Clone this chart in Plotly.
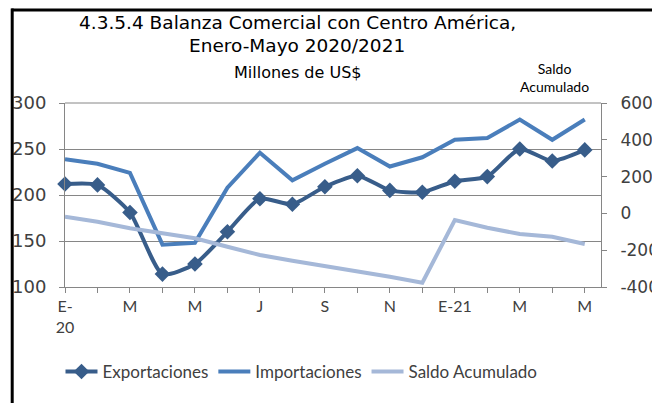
import plotly.graph_objects as go

months = list(range(17))
tick_pos = list(range(17))
tick_text = ["E-<br>20", "", "M", "", "M", "", "J", "", "S", "", "N", "", "E-21", "", "M", "", "M"]

exportaciones = [212, 211, 181, 114, 125, 160, 196, 190, 209, 221, 205, 203, 215, 220, 250, 237, 249]
importaciones = [239, 234, 224, 146, 148, 208, 246, 216, 234, 251, 231, 241, 260, 262, 282, 260, 282]
saldo_acumulado = [-18, -45, -81, -108, -135, -181, -226, -257, -285, -317, -344, -377, -36, -78, -112, -127, -166]

y2_ticks = [-400, -200, 0, 200, 400, 600]
y2_labels = ["-400", "-200", "0", "200", "400", "600"]

FONT = "Lato"
WIDE = "DejaVu Sans"
C_EXP = "#385D8A"
C_IMP = "#4A7EBB"
C_SAL = "#A5B8D8"
TXT = "#404040"

fig = go.Figure()
fig.add_trace(go.Scatter(x=months, y=exportaciones, name="Exportaciones", mode="lines+markers",
                         line=dict(color=C_EXP, width=4, shape="spline", smoothing=0.6),
                         marker=dict(symbol="diamond", size=12, color=C_EXP),
                         cliponaxis=False))
fig.add_trace(go.Scatter(x=months, y=importaciones, name="Importaciones", mode="lines",
                         line=dict(color=C_IMP, width=4), cliponaxis=False))
fig.add_trace(go.Scatter(x=months, y=saldo_acumulado, name="Saldo Acumulado", mode="lines",
                         line=dict(color=C_SAL, width=4), yaxis="y2", cliponaxis=False))

fig.update_layout(
    width=652, height=403,
    margin=dict(l=65, r=51, t=103, b=116, autoexpand=False),
    paper_bgcolor="white", plot_bgcolor="white",
    font=dict(family=FONT, size=17, color=TXT),
    showlegend=True,
    legend=dict(orientation="h", x=-0.0084, y=-0.462, xanchor="left", yanchor="middle",
                font=dict(family=FONT, size=17, color=TXT), itemwidth=32,
                tracegroupgap=0, bgcolor="rgba(0,0,0,0)"),
    xaxis=dict(range=[0, 16.5], tickmode="array", tickvals=tick_pos, ticktext=tick_text,
               showgrid=False, zeroline=False, showline=True, linecolor="#868686", linewidth=1,
               ticks="outside", ticklen=5, tickcolor="#868686", tickangle=0, automargin=False,
               tickfont=dict(family=FONT, size=16, color=TXT)),
    yaxis=dict(range=[100, 300], dtick=50, showgrid=True, gridcolor="#868686", gridwidth=1,
               zeroline=False, showline=True, linecolor="#868686", linewidth=1,
               ticks="outside", ticklen=5, tickcolor="#868686", automargin=False,
               ticklabelstandoff=9,
               tickfont=dict(family=WIDE, size=18, color=TXT)),
    yaxis2=dict(range=[-400, 600], tickmode="array", tickvals=y2_ticks, ticktext=y2_labels,
                overlaying="y", side="right", showgrid=False,
                zeroline=False, showline=True, linecolor="#868686", linewidth=1,
                ticks="outside", ticklen=5, tickcolor="#868686", automargin=False,
                ticklabelstandoff=10,
                tickfont=dict(family=WIDE, size=17, color=TXT)),
)

# top border line of plot area
fig.add_shape(type="line", xref="paper", yref="paper", x0=0, x1=1, y0=1, y1=1,
              line=dict(color="#868686", width=1))

# outer black frame (top and left edges)
fig.add_shape(type="line", xref="paper", yref="paper", x0=-0.1, x1=1.2, y0=1.505, y1=1.505,
              line=dict(color="black", width=3), layer="above")
fig.add_shape(type="line", xref="paper", yref="paper", x0=-0.0985, x1=-0.0985, y0=1.513, y1=-1.0,
              line=dict(color="black", width=3), layer="above")

fig.add_annotation(xref="paper", yref="paper", x=0.433, y=1.435, xanchor="center", yanchor="middle",
                   text="4.3.5.4 Balanza Comercial con Centro América,", showarrow=False,
                   font=dict(family=WIDE, size=18.5, color="black"))
fig.add_annotation(xref="paper", yref="paper", x=0.433, y=1.31, xanchor="center", yanchor="middle",
                   text="Enero-Mayo 2020/2021", showarrow=False,
                   font=dict(family=WIDE, size=18.5, color="black"))
fig.add_annotation(xref="paper", yref="paper", x=0.433, y=1.168, xanchor="center", yanchor="middle",
                   text="Millones de US$", showarrow=False,
                   font=dict(family=WIDE, size=16, color="black"))
fig.add_annotation(xref="paper", yref="paper", x=0.914, y=1.141, xanchor="center", yanchor="middle",
                   text="Saldo<br>Acumulado", showarrow=False,
                   font=dict(family=FONT, size=14, color="black"))

fig.write_html("out.html", config={"displayModeBar": False},
               post_script="document.body.style.margin='0';document.body.style.overflow='hidden';")
